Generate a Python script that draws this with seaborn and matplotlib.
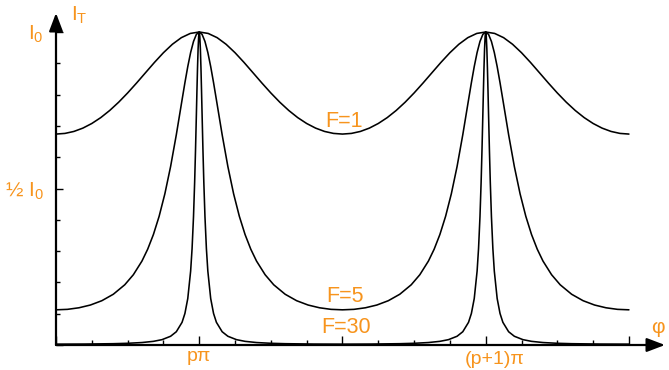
import numpy as np
import pandas as pd
import matplotlib
matplotlib.use("Agg")
import matplotlib.pyplot as plt
import seaborn as sns
from matplotlib.transforms import ScaledTranslation

ORANGE = "#F7941D"

# Half-period profiles:
# offset from the nearest transmission peak (units of pi) -> I_T / I_0
d_f1 = [0, 0.03125, 0.0625, 0.09375, 0.125, 0.15625, 0.1875, 0.21875, 0.25,
        0.28125, 0.3125, 0.34375, 0.375, 0.40625, 0.4375, 0.46875, 0.5]
i_f1 = [1.0, 0.9954, 0.9819, 0.9608, 0.9338, 0.9029, 0.8700, 0.8370, 0.8052,
        0.7757, 0.7493, 0.7265, 0.7077, 0.6929, 0.6823, 0.6760, 0.6739]

d_f5 = [0, 0.01, 0.02, 0.03, 0.04, 0.05, 0.06, 0.08, 0.10, 0.12, 0.14, 0.16,
        0.18, 0.20, 0.23, 0.26, 0.30, 0.34, 0.38, 0.42, 0.46, 0.50]
i_f5 = [1.0, 0.9923, 0.9698, 0.9346, 0.8896, 0.8380, 0.7829, 0.6718, 0.5700,
        0.4830, 0.4112, 0.3529, 0.3060, 0.2681, 0.2245, 0.1924, 0.1621, 0.1415,
        0.1277, 0.1189, 0.1139, 0.1124]

d_f30 = [0, 0.002, 0.004, 0.006, 0.008, 0.010, 0.013, 0.016, 0.020, 0.025,
         0.030, 0.04, 0.05, 0.06, 0.08, 0.10, 0.13, 0.16, 0.20, 0.25, 0.30,
         0.40, 0.50]
i_f30 = [1.0, 0.9858, 0.9455, 0.8852, 0.8127, 0.7352, 0.6217, 0.5204, 0.4100,
         0.3080, 0.2363, 0.1485, 0.1007, 0.0724, 0.0424, 0.0279, 0.01707,
         0.01167, 0.00787, 0.00545, 0.00417, 0.00302, 0.00273]

curve_names = ["F=1", "F=5", "F=30"]
peak_positions = [0, 1]          # p*pi and (p+1)*pi, in units of pi
x_tick_pos = [-0.5, 0, 0.5, 1, 1.5]
x_tick_labels = ["", "pπ", "", "(p+1)π", ""]
y_tick_pos = [0, 0.5, 1.0]
y_tick_labels = ["", "½ $\\mathregular{I_0}$", "$\\mathregular{I_0}$"]


def full_curve(d, v):
    """Mirror a half-period profile around both peaks (-pi/2 .. 3pi/2)."""
    d = np.asarray(d)
    v = np.asarray(v)
    p0, p1 = peak_positions
    x = np.concatenate([p0 - d[::-1], p0 + d[1:], p1 - d[::-1][1:], p1 + d[1:]])
    y = np.concatenate([v[::-1], v[1:], v[::-1][1:], v[1:]])
    return x, y


frames = []
for name, d, v in zip(curve_names, [d_f1, d_f5, d_f30], [i_f1, i_f5, i_f30]):
    x, y = full_curve(d, v)
    frames.append(pd.DataFrame({"phi": x, "I": y, "curve": name}))
df = pd.concat(frames, ignore_index=True)

sns.set_style("white")
plt.rcParams["font.family"] = ["Liberation Sans", "DejaVu Sans"]
plt.rcParams["mathtext.fontset"] = "custom"
plt.rcParams["mathtext.rm"] = "Liberation Sans"

W, H = 669, 370
fig = plt.figure(figsize=(W / 100, H / 100), dpi=100)
ax_left, ax_right, ax_bottom_px, ax_top_px = 56, 665, 345, 13
ax = fig.add_axes([ax_left / W, (H - ax_bottom_px) / H,
                   (ax_right - ax_left) / W, (ax_bottom_px - ax_top_px) / H])

sns.lineplot(data=df, x="phi", y="I", units="curve", estimator=None,
             sort=False, color="black", lw=1.15, ax=ax, legend=False)

ax.set_xlim(-0.5, (ax_right - 200) / 286)
ax.set_ylim(0, (ax_bottom_px - ax_top_px) / 313)
ax.set_xlabel("")
ax.set_ylabel("")
for s in ax.spines.values():
    s.set_visible(False)

# axes with arrows
arrow = dict(arrowstyle="-|>,head_length=1.0,head_width=0.38", color="black",
             lw=1.6, shrinkA=0, shrinkB=0, mutation_scale=11)
ax.annotate("", xy=(1, 0), xytext=(0, 0), xycoords="axes fraction",
            textcoords="axes fraction", arrowprops=arrow)
ax.annotate("", xy=(0, 1), xytext=(0, 0), xycoords="axes fraction",
            textcoords="axes fraction", arrowprops=arrow)

# ticks
ax.set_xticks(x_tick_pos)
ax.set_xticklabels(x_tick_labels)
ax.set_xticks(np.arange(-0.5, 1.51, 0.125), minor=True)
ax.set_yticks(y_tick_pos)
ax.set_yticklabels(y_tick_labels)
ax.set_yticks(np.arange(0, 1.01, 0.1), minor=True)
ax.tick_params(axis="x", which="both", bottom=True, top=False)
ax.tick_params(axis="y", which="both", left=True, right=False)
ax.tick_params(axis="x", which="major", direction="in", length=6.5, width=1,
               color="black", labelcolor=ORANGE, labelsize=14, pad=2.5)
ax.tick_params(axis="x", which="minor", direction="in", length=3.6, width=1,
               color="black")
ax.tick_params(axis="y", which="major", direction="in", length=5, width=1,
               color="black", labelcolor=ORANGE, labelsize=15, pad=9)
ax.tick_params(axis="y", which="minor", direction="in", length=3, width=1,
               color="black")
for lab in ax.get_xticklabels():
    if lab.get_text() == "(p+1)π":
        lab.set_transform(lab.get_transform() +
                          ScaledTranslation(9 / 100, -3 / 100, fig.dpi_scale_trans))

# curve labels
label_pos = {"F=1": (0.507, 0.6965), "F=5": (0.510, 0.1374), "F=30": (0.514, 0.0383)}
for name in curve_names:
    x, y = label_pos[name]
    ax.text(x, y, name, color=ORANGE, fontsize=15.5, ha="center", va="baseline")

# axis names
fig.text(71 / W, 1 - 21 / H, "$\\mathregular{I_T}$", color=ORANGE, fontsize=15,
         va="baseline", ha="left")
fig.text(651 / W, 1 - 333 / H, "φ", color=ORANGE, fontsize=15,
         va="baseline", ha="left")

fig.savefig("out.png", dpi=100)
